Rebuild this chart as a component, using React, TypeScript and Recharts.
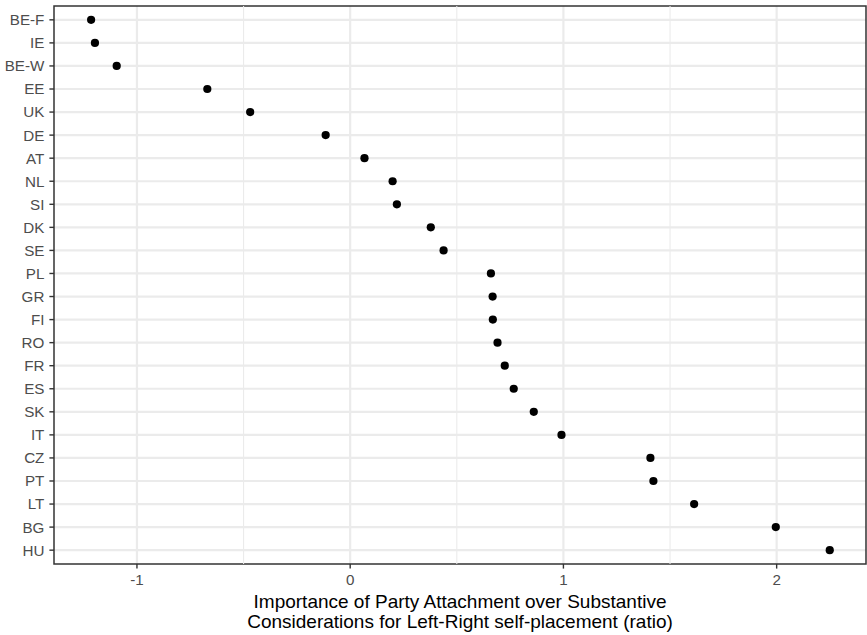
import React from "react";
import {
  ScatterChart,
  Scatter,
  XAxis,
  YAxis,
  CartesianGrid,
  ReferenceLine,
  ReferenceArea,
} from "recharts";

const countries = [
  "BE-F", "IE", "BE-W", "EE", "UK", "DE", "AT", "NL", "SI", "DK", "SE", "PL",
  "GR", "FI", "RO", "FR", "ES", "SK", "IT", "CZ", "PT", "LT", "BG", "HU",
];
const ratios = [
  -1.215, -1.197, -1.095, -0.67, -0.469, -0.115, 0.067, 0.199, 0.219, 0.378,
  0.438, 0.66, 0.668, 0.669, 0.691, 0.725, 0.767, 0.861, 0.991, 1.408, 1.422,
  1.613, 1.996, 2.249,
];
const xTicks = [-1, 0, 1, 2];
const xMinorTicks = [-0.5, 0.5, 1.5];
const titleLines = [
  "Importance of Party Attachment over Substantive",
  "Considerations for Left-Right self-placement (ratio)",
];

const data = countries.map((c, i) => ({ country: c, idx: i, value: ratios[i] }));
const yTicks = countries.map((_, i) => i);

const X_DOMAIN: [number, number] = [-1.389, 2.419];
const Y_DOMAIN: [number, number] = [-0.6, countries.length - 1 + 0.6];

const FONT = "'Liberation Sans', Arial, Helvetica, sans-serif";

const AxisTitle = (props: any) => {
  const vb = props.viewBox || {};
  const cx = vb.x + vb.width / 2;
  return (
    <text
      x={cx}
      y={vb.y}
      textAnchor="middle"
      fontFamily={FONT}
      fontSize={19}
      fill="#000000"
    >
      <tspan x={cx} y={608}>{titleLines[0]}</tspan>
      <tspan x={cx} y={628}>{titleLines[1]}</tspan>
    </text>
  );
};

export default function App() {
  return (
    <div style={{ position: "absolute", left: 0, top: 0, width: 867, height: 635, background: "#ffffff" }}>
      <ScatterChart
        width={867}
        height={635}
        margin={{ top: 6, right: 1, bottom: 0, left: 0 }}
      >
        <CartesianGrid
          stroke="#ebebeb"
          strokeWidth={2.2}
          horizontal={true}
          vertical={true}
          verticalValues={xTicks}
          horizontalValues={yTicks}
        />
        {xMinorTicks.map((v) => (
          <ReferenceLine key={v} x={v} stroke="#ebebeb" strokeWidth={1.1} />
        ))}
        <XAxis
          type="number"
          dataKey="value"
          domain={X_DOMAIN}
          ticks={xTicks}
          allowDataOverflow
          height={71}
          axisLine={false}
          tickLine={{ stroke: "#333333", strokeWidth: 1.4 }}
          tickSize={4.6}
          tickMargin={5.6}
          tick={{ fill: "#4d4d4d", fontSize: 15.2, fontFamily: FONT }}
          label={<AxisTitle />}
        />
        <YAxis
          type="number"
          dataKey="idx"
          domain={Y_DOMAIN}
          reversed
          ticks={yTicks}
          interval={0}
          allowDataOverflow
          width={54}
          axisLine={false}
          tickLine={{ stroke: "#333333", strokeWidth: 1.4 }}
          tickSize={4.6}
          tickMargin={5}
          tickFormatter={(v: number) => countries[v] ?? ""}
          tick={{ fill: "#4d4d4d", fontSize: 15.2, fontFamily: FONT }}
        />
        <ReferenceArea
          x1={X_DOMAIN[0]}
          x2={X_DOMAIN[1]}
          y1={Y_DOMAIN[0]}
          y2={Y_DOMAIN[1]}
          fill="none"
          stroke="#333333"
          strokeWidth={1.5}
          ifOverflow="visible"
        />
        <Scatter
          data={data}
          fill="#000000"
          isAnimationActive={false}
          shape={(p: any) => <circle cx={p.cx} cy={p.cy} r={4.1} fill="#000000" />}
        />
      </ScatterChart>
    </div>
  );
}
